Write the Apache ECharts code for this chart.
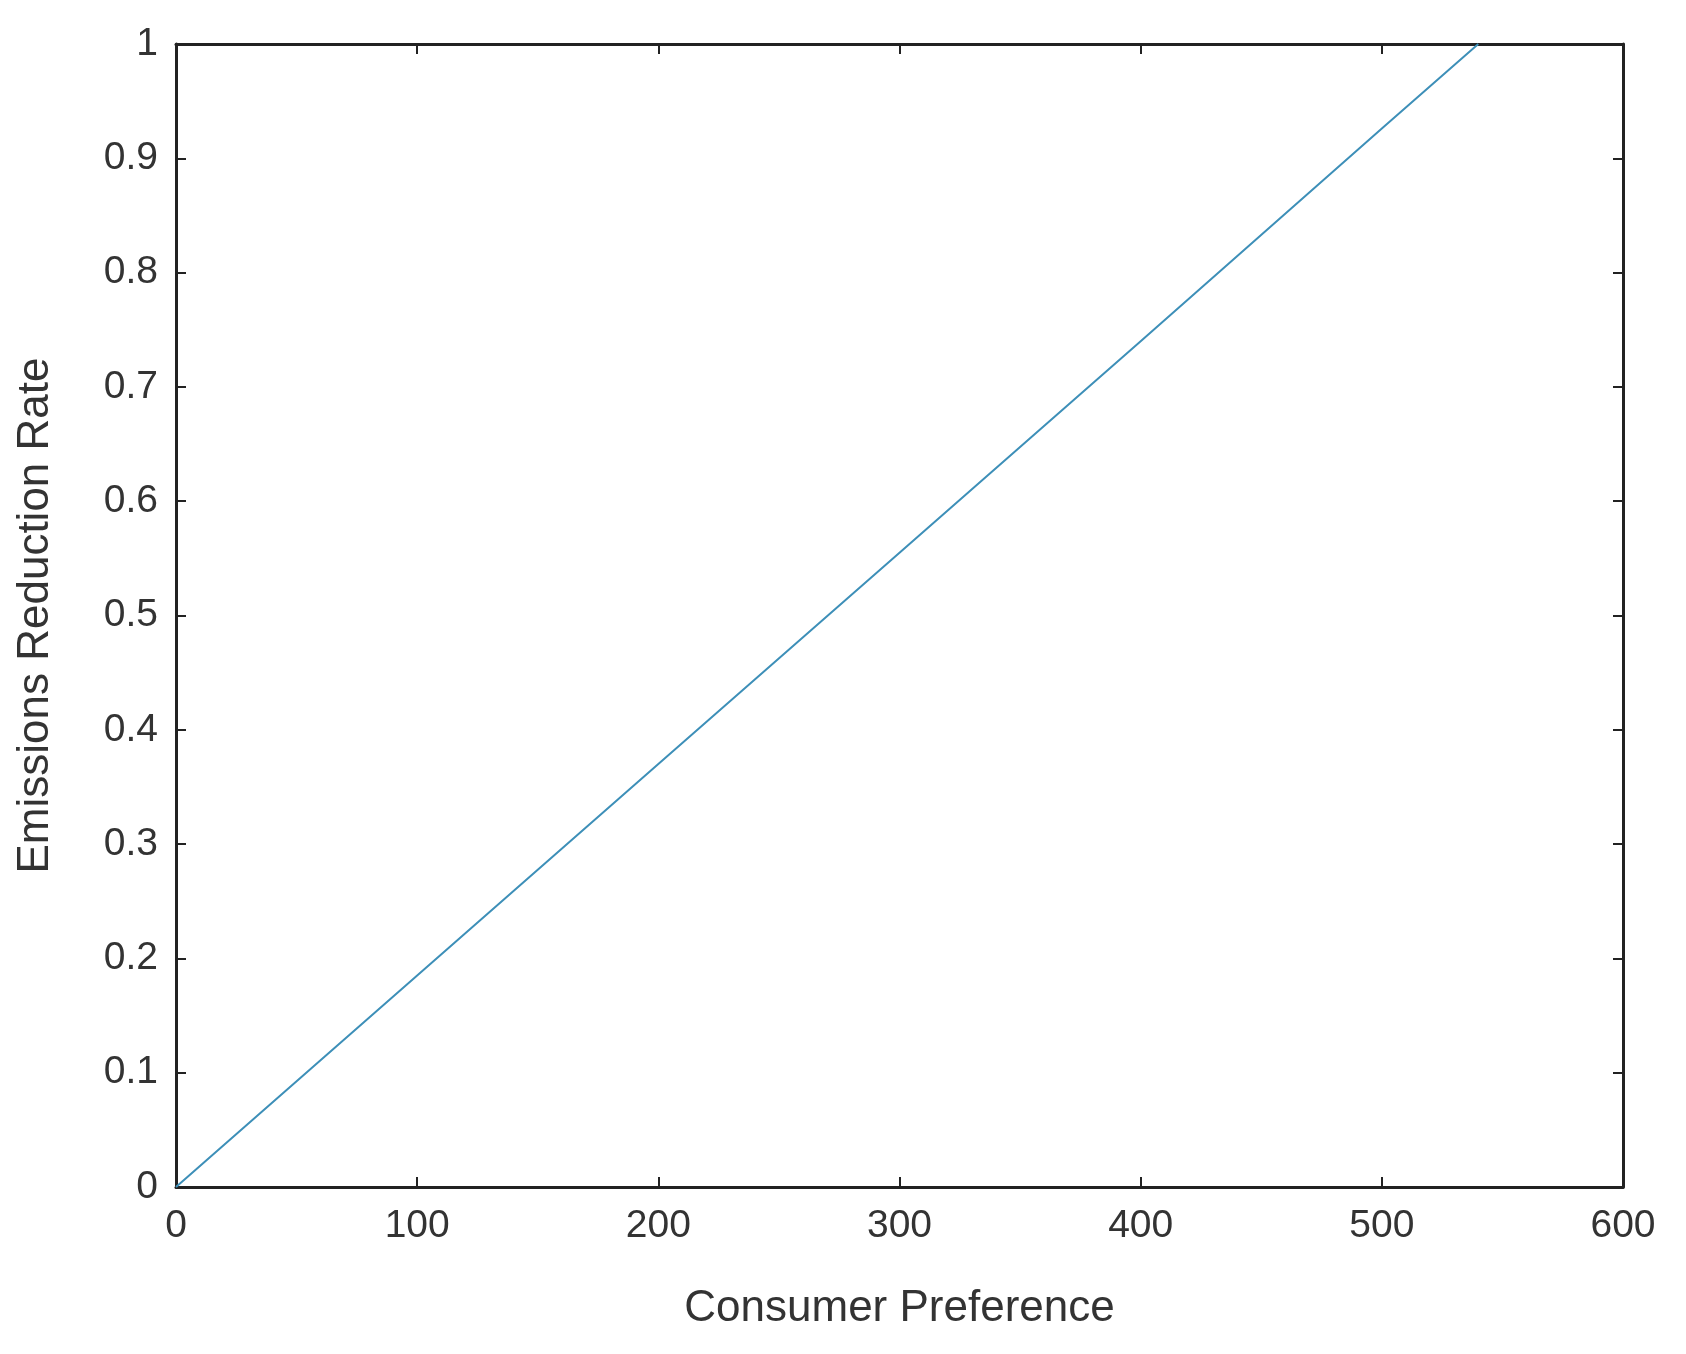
<!DOCTYPE html>
<html><head><meta charset="utf-8">
<script src="https://cdn.jsdelivr.net/npm/echarts@6/dist/echarts.min.js"></script>
<style>html,body{margin:0;background:#fff}#c{width:1686px;height:1354px}</style>
</head><body><div id="c"></div>
<script>
// consumer preference vs emissions reduction rate
var prefs = [0, 100, 200, 300, 400, 500, 540];
var rates = [0, 0.185, 0.37, 0.555, 0.74, 0.926, 1];

var chart = echarts.init(document.getElementById('c'));
var fnt = 'Liberation Sans';
var axisCommon = {
    axisLine: { show: true, onZero: false, lineStyle: { color: '#222', width: 3 } },
    axisTick: { show: true, inside: true, length: 10, lineStyle: { color: '#222', width: 2 } },
    splitLine: { show: false },
    axisLabel: { color: '#333', fontSize: 39, fontFamily: fnt },
    nameTextStyle: { color: '#333', fontSize: 44, fontFamily: fnt }
};
chart.setOption({
    animation: false,
    grid: { left: 176, right: 63, top: 44, bottom: 167 },
    xAxis: [
        Object.assign({}, axisCommon, { type: 'value', min: 0, max: 600, interval: 100,
            name: 'Consumer Preference', nameLocation: 'middle', nameGap: 100,
            axisLabel: Object.assign({}, axisCommon.axisLabel, { margin: 20 }) }),
        Object.assign({}, axisCommon, { type: 'value', position: 'top', min: 0, max: 600, interval: 100,
            axisLabel: { show: false } })
    ],
    yAxis: [
        Object.assign({}, axisCommon, { type: 'value', min: 0, max: 1, interval: 0.1,
            name: 'Emissions Reduction Rate', nameLocation: 'middle', nameGap: 118,
            axisLabel: Object.assign({}, axisCommon.axisLabel, { margin: 18 }) }),
        Object.assign({}, axisCommon, { type: 'value', position: 'right', min: 0, max: 1, interval: 0.1,
            axisLabel: { show: false } })
    ],
    series: [{
        type: 'line',
        data: prefs.map(function (p, i) { return [p, rates[i]]; }),
        showSymbol: false,
        lineStyle: { color: '#3d8fb8', width: 2 }
    }]
});
</script></body></html>
